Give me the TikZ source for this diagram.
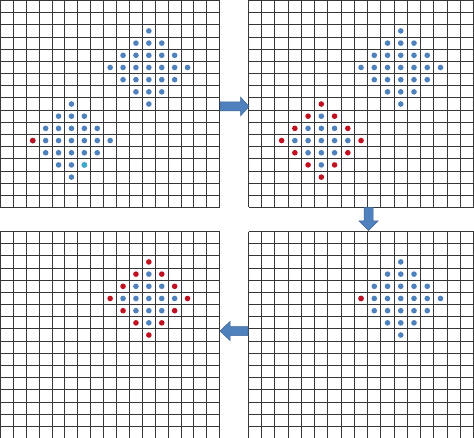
\documentclass[tikz,border=0pt]{standalone}
\begin{document}
\begin{tikzpicture}[x=1bp,y=-1bp]
\definecolor{gridline}{RGB}{55,55,55}
\definecolor{dotblue}{RGB}{79,129,189}
\definecolor{dotred}{RGB}{192,16,32}
\definecolor{dotcyan}{RGB}{60,170,200}
\definecolor{arrowfill}{RGB}{79,129,189}
\definecolor{arrowedge}{RGB}{60,100,150}
\tikzset{
  gridlines/.style={draw=gridline,line width=1.5bp},
  blockarrow/.style={fill=arrowfill,draw=arrowedge,line width=0.5bp,line join=miter}
}
\useasboundingbox (0,0) rectangle (474,438);
\fill[white] (0,0) rectangle (474,438);
% grid drawing: uses \gx \gy \cw \ch ; line positions snapped to pixel centres
\newcommand\mygrid{%
  \pgfmathsetmacro\xa{round(\gx)+0.5}%
  \pgfmathsetmacro\xb{round(\gx+17*\cw)+0.5}%
  \pgfmathsetmacro\ya{round(\gy)+0.5}%
  \pgfmathsetmacro\yb{round(\gy+17*\ch)+0.5}%
  \foreach \k in {0,...,17}{%
    \pgfmathsetmacro\px{round(\gx+\k*\cw)+0.5}%
    \pgfmathsetmacro\py{round(\gy+\k*\ch)+0.5}%
    \draw[gridlines] (\px,\ya) -- (\px,\yb);
    \draw[gridlines] (\xa,\py) -- (\xb,\py);
  }}
\newcommand\celldot[3]{\fill[#3] ({\gx+(#1+0.5)*\cw+0.5},{\gy+(#2+0.5)*\ch+0.5}) circle (2.8);}
% full blue diamond of radius 3
\newcommand\bluediamond[2]{%
  \foreach \dx in {-3,...,3}{\foreach \dy in {-3,...,3}{%
    \pgfmathtruncatemacro\mm{abs(\dx)+abs(\dy)}%
    \pgfmathtruncatemacro\cc{#1+\dx}%
    \pgfmathtruncatemacro\rr{#2+\dy}%
    \ifnum\mm<4 \celldot{\cc}{\rr}{dotblue}\fi
  }}}
% blue inner (radius 2) with red ring (radius 3)
\newcommand\ringdiamond[2]{%
  \foreach \dx in {-3,...,3}{\foreach \dy in {-3,...,3}{%
    \pgfmathtruncatemacro\mm{abs(\dx)+abs(\dy)}%
    \pgfmathtruncatemacro\cc{#1+\dx}%
    \pgfmathtruncatemacro\rr{#2+\dy}%
    \ifnum\mm<3 \celldot{\cc}{\rr}{dotblue}\else\ifnum\mm=3 \celldot{\cc}{\rr}{dotred}\fi\fi
  }}}
% top-left grid
\begin{scope}
\def\gx{0}\def\gy{0}\def\cw{12.9}\def\ch{12.18}
\mygrid
\bluediamond{11}{5}
\bluediamond{5}{11}
\celldot{6}{13}{dotcyan}
\celldot{2}{11}{dotred}
\end{scope}
% top-right grid
\begin{scope}
\def\gx{248}\def\gy{0}\def\cw{13.24}\def\ch{12.18}
\mygrid
\bluediamond{11}{5}
\ringdiamond{5}{11}
\end{scope}
% bottom-left grid
\begin{scope}
\def\gx{0}\def\gy{231}\def\cw{12.9}\def\ch{12.18}
\mygrid
\ringdiamond{11}{5}
\end{scope}
% bottom-right grid
\begin{scope}
\def\gx{248}\def\gy{231}\def\cw{13.24}\def\ch{12.18}
\mygrid
\bluediamond{11}{5}
\celldot{8}{5}{dotred}
\end{scope}
% arrows
\filldraw[blockarrow] (220,102) -- (240.5,102) -- (240.5,97) -- (249,106.5) -- (240.5,116) -- (240.5,111) -- (220,111) -- cycle;
\filldraw[blockarrow] (364,207.5) -- (373,207.5) -- (373,221) -- (378,221) -- (368.5,230.5) -- (359,221) -- (364,221) -- cycle;
\filldraw[blockarrow] (248,326.5) -- (230,326.5) -- (230,321.5) -- (220,331) -- (230,340.5) -- (230,335.5) -- (248,335.5) -- cycle;
\end{tikzpicture}
\end{document}
